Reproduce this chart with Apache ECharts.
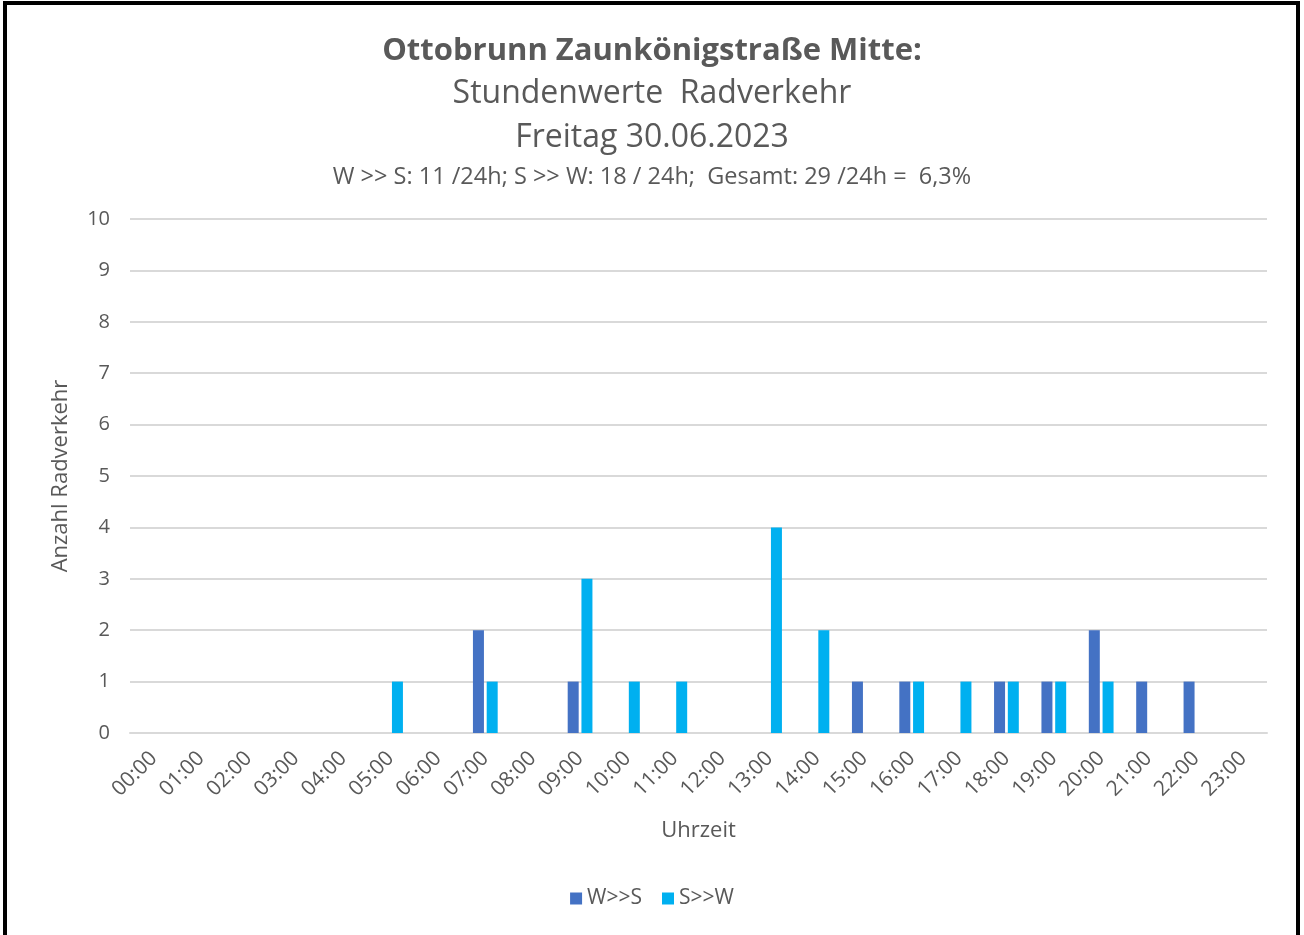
<!DOCTYPE html>
<html>
<head>
<meta charset="utf-8">
<script src="https://cdn.jsdelivr.net/npm/echarts@6/dist/echarts.min.js"></script>
<style>
  html, body { margin: 0; padding: 0; background: #fff; }
  #chart { width: 1304px; height: 935px; }
</style>
</head>
<body>
<div id="chart"></div>
<script>
// hours of the day
const hours = ['00:00', '01:00', '02:00', '03:00', '04:00', '05:00', '06:00', '07:00',
  '08:00', '09:00', '10:00', '11:00', '12:00', '13:00', '14:00', '15:00',
  '16:00', '17:00', '18:00', '19:00', '20:00', '21:00', '22:00', '23:00'];

// W>>S direction
const westSouth = [0, 0, 0, 0, 0, 0, 0, 2, 0, 1, 0, 0, 0, 0, 0, 1, 1, 0, 1, 1, 2, 1, 1, 0];
// S>>W direction
const southWest = [0, 0, 0, 0, 0, 1, 0, 1, 0, 3, 1, 1, 0, 4, 2, 0, 1, 1, 1, 1, 1, 0, 0, 0];

const titleLines = [
  'Ottobrunn Zaunkönigstraße Mitte:',
  'Stundenwerte  Radverkehr',
  'Freitag 30.06.2023',
  'W >> S: 11 /24h; S >> W: 18 / 24h;  Gesamt: 29 /24h =  6,3%'
];

const FONT = '"Open Sans", Lato, sans-serif';
const GREY = '#595959';

const chart = echarts.init(document.getElementById('chart'));

chart.setOption({
  animation: false,
  textStyle: { fontFamily: FONT, color: GREY },
  title: [
    { text: titleLines[0], left: 'center', top: 31,
      textStyle: { fontFamily: FONT, fontSize: 31, fontWeight: 'bold', color: GREY } },
    { text: titleLines[1], left: 'center', top: 73,
      textStyle: { fontFamily: FONT, fontSize: 32, fontWeight: 'normal', color: GREY } },
    { text: titleLines[2], left: 'center', top: 117,
      textStyle: { fontFamily: FONT, fontSize: 32, fontWeight: 'normal', color: GREY } },
    { text: titleLines[3], left: 'center', top: 160,
      textStyle: { fontFamily: FONT, fontSize: 23.5, fontWeight: 'normal', color: GREY } }
  ],
  legend: {
    bottom: 21,
    left: 'center',
    itemWidth: 12,
    itemHeight: 12,
    itemGap: 20,
    icon: 'rect',
    textStyle: { fontFamily: FONT, fontSize: 21, color: GREY },
    data: ['W>>S', 'S>>W']
  },
  grid: { left: 130, right: 37, top: 219, bottom: 202, containLabel: false },
  xAxis: {
    type: 'category',
    data: hours,
    name: 'Uhrzeit',
    nameLocation: 'middle',
    nameGap: 87,
    nameTextStyle: { fontFamily: FONT, fontSize: 22, color: GREY },
    axisLine: { lineStyle: { color: '#d9d9d9', width: 2 } },
    axisTick: { show: false },
    axisLabel: { rotate: 45, fontSize: 21, color: GREY, margin: 22, interval: 0 }
  },
  yAxis: {
    type: 'value',
    min: 0,
    max: 10,
    interval: 1,
    name: 'Anzahl Radverkehr',
    nameLocation: 'middle',
    nameGap: 58,
    nameRotate: 90,
    nameTextStyle: { fontFamily: FONT, fontSize: 22, color: GREY },
    axisLine: { show: false },
    axisTick: { show: false },
    axisLabel: { fontSize: 20, color: GREY, margin: 20 },
    splitLine: { lineStyle: { color: '#d9d9d9', width: 2 } }
  },
  series: [
    { name: 'W>>S', type: 'bar', data: westSouth, barWidth: 11, barGap: '25%',
      itemStyle: { color: '#4472C4' } },
    { name: 'S>>W', type: 'bar', data: southWest, barWidth: 11,
      itemStyle: { color: '#00B0F0' } }
  ],
  graphic: [
    { type: 'rect', shape: { x: 5, y: 3, width: 1293, height: 945 },
      style: { fill: null, stroke: '#000', lineWidth: 4 }, silent: true }
  ]
});
</script>
</body>
</html>
